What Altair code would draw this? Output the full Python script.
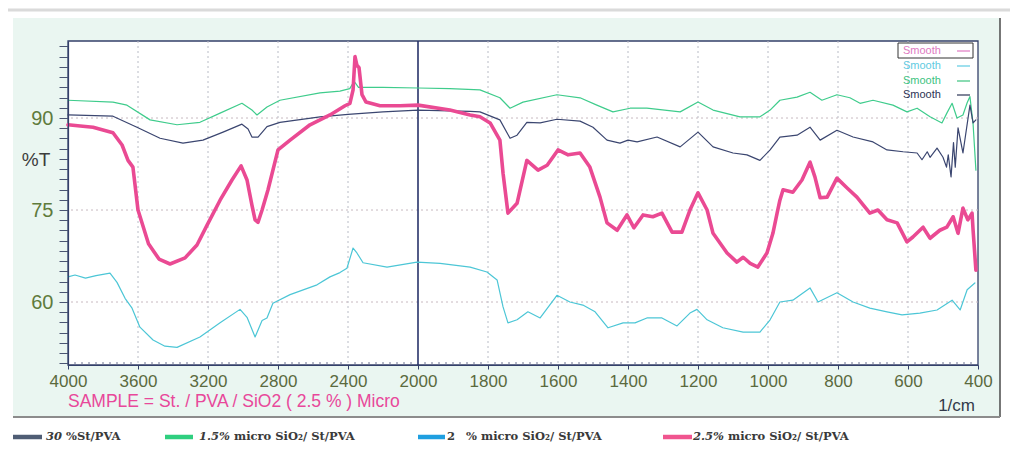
import altair as alt
import pandas as pd

# ---------------- data (wavenumber 1/cm, %T) ----------------
PINK_WN = [4000, 3930, 3857, 3743, 3691, 3657, 3629, 3600, 3540, 3480, 3417, 3331, 3263, 3206, 3131,
           3063, 3011, 2977, 2949, 2931, 2914, 2891, 2857, 2800, 2731, 2617, 2503, 2417, 2389, 2371,
           2360, 2349, 2337, 2320, 2297, 2217, 2103, 2000, 1909, 1851, 1823, 1794, 1766, 1757, 1743,
           1717, 1689, 1657, 1631, 1600, 1571, 1537, 1509, 1480, 1460, 1431, 1403, 1383, 1357, 1329,
           1303, 1274, 1246, 1223, 1200, 1174, 1157, 1117, 1089, 1071, 1051, 1029, 1003, 986, 974,
           966, 957, 929, 903, 880, 866, 851, 831, 803, 774, 746, 709, 686, 660, 631, 603, 586, 557,
           537, 509, 489, 471, 457, 443, 429, 417, 414, 406]
PINK_T = [88.9, 88.7, 88.5, 87.6, 85.6, 83.1, 82.0, 75.0, 69.5, 67.0, 66.2, 67.2, 69.3, 72.5, 76.6,
          79.9, 82.2, 79.9, 75.8, 73.4, 73.0, 75.0, 78.3, 84.8, 86.4, 88.9, 90.5, 92.0, 92.4, 94.6,
          100.0, 98.6, 98.2, 93.8, 92.6, 92.0, 92.0, 92.1, 91.3, 90.5, 90.2, 89.2, 86.4, 81.0, 74.5,
          76.1, 83.1, 81.5, 82.3, 84.8, 84.0, 84.3, 82.0, 77.1, 72.9, 71.7, 74.2, 72.1, 74.2, 73.9,
          74.5, 71.4, 71.4, 75.0, 77.8, 75.0, 71.2, 68.0, 66.5, 67.3, 66.3, 65.7, 68.0, 71.2, 74.5,
          76.6, 78.3, 77.9, 79.9, 82.8, 80.4, 77.0, 77.1, 80.2, 78.6, 77.1, 74.5, 75.0, 73.4, 72.9, 69.8, 70.6, 72.2,
          70.4, 71.7, 72.2, 73.9, 71.2, 75.3, 73.4, 74.5, 71.7, 65.2]

CYAN_WN = [4000, 3960, 3900, 3840, 3760, 3720, 3674, 3634, 3589, 3514, 3446, 3377, 3246, 3131, 3017,
           2977, 2931, 2891, 2863, 2829, 2731, 2577, 2503, 2446, 2406, 2371, 2349, 2314, 2177, 2006,
           1937, 1851, 1803, 1774, 1757, 1743, 1717, 1686, 1651, 1603, 1566, 1529, 1494, 1457, 1414,
           1380, 1346, 1303, 1260, 1223, 1203, 1174, 1129, 1071, 1023, 994, 966, 929, 880, 857, 803,
           757, 709, 660, 617, 566, 517, 474, 451, 431, 409]
CYAN_T = [64.1, 64.4, 63.9, 64.3, 64.7, 63.2, 60.6, 59.0, 55.9, 53.8, 52.8, 52.6, 54.3, 56.6, 58.8,
          57.5, 54.3, 57.0, 57.4, 59.8, 61.2, 62.8, 64.1, 64.8, 65.5, 68.8, 68.0, 66.4, 65.7, 66.5,
          66.3, 65.7, 64.9, 63.6, 59.2, 56.6, 57.1, 58.4, 57.4, 61.1, 60.0, 59.5, 58.4, 55.8, 56.6,
          56.6, 57.4, 57.4, 56.1, 58.2, 58.8, 57.1, 55.8, 55.1, 55.1, 57.1, 60.0, 60.3, 62.3, 60.0, 61.5,
          60.0, 59.0, 58.4, 57.9, 58.2, 58.7, 60.3, 58.7, 62.0, 63.1]

GREEN_WN = [4000, 3743, 3663, 3531, 3377, 3246, 3131, 3006, 2949, 2920, 2863, 2789, 2560, 2446, 2390,
            2365, 2340, 2200, 2000, 1909, 1823, 1766, 1737, 1700, 1603, 1537, 1489, 1443, 1394, 1346,
            1251, 1200, 1157, 1080, 1023, 994, 966, 917, 880, 846, 803, 766, 737, 700, 643, 603, 574,
            537, 503, 489, 474, 460, 443, 431, 423, 414, 406]
GREEN_T = [92.9, 92.6, 92.1, 89.7, 88.9, 89.3, 90.8, 92.4, 91.3, 90.5, 91.8, 92.9, 94.1, 94.4, 94.8,
           96.0, 95.0, 95.0, 94.9, 94.8, 94.6, 93.3, 91.6, 92.6, 93.8, 93.3, 92.1, 91.0, 91.6, 91.6,
           91.0, 92.6, 91.3, 90.2, 90.2, 91.3, 92.9, 93.4, 94.2, 92.9, 93.8, 93.3, 92.4, 92.9, 92.1, 91.0, 91.6,
           90.2, 89.2, 90.8, 92.4, 90.0, 90.5, 92.5, 93.5, 89.0, 81.5]

NAVY_WN = [4000, 3743, 3606, 3474, 3343, 3229, 3114, 3006, 2971, 2949, 2914, 2863, 2789, 2560, 2400,
           2200, 2000, 1851, 1823, 1766, 1737, 1717, 1689, 1651, 1603, 1537, 1500, 1460, 1423, 1400,
           1374, 1317, 1251, 1200, 1157, 1100, 1060, 1023, 994, 966, 917, 880, 851, 803, 757, 700,
           660, 614, 574, 560, 545, 537, 517, 500, 490, 485, 477, 470, 465, 457, 443, 423, 414, 406]
NAVY_T = [90.5, 90.3, 88.5, 86.7, 85.9, 86.4, 87.7, 89.0, 88.2, 86.9, 86.9, 88.6, 89.3, 90.2, 90.6,
          91.0, 91.3, 91.1, 91.0, 89.7, 86.7, 87.2, 89.3, 89.2, 89.8, 89.5, 88.5, 86.4, 85.9, 86.4,
          86.1, 86.9, 85.3, 87.7, 85.3, 84.3, 84.0, 83.1, 84.8, 86.9, 87.2, 88.5, 86.4, 88.0, 86.9, 86.1,
          84.8, 84.5, 84.3, 83.2, 84.5, 83.6, 85.1, 83.6, 82.0, 84.0, 80.4, 86.0, 82.0, 88.4, 84.3, 92.1, 89.2, 89.7]

SERIES = [("cyan", CYAN_WN, CYAN_T), ("green", GREEN_WN, GREEN_T),
          ("navy", NAVY_WN, NAVY_T), ("pink", PINK_WN, PINK_T)]

X_MAJOR = [4000, 3600, 3200, 2800, 2400, 2000, 1800, 1600, 1400, 1200, 1000, 800, 600, 400]
X_GRID = [3600, 3200, 2800, 2400, 1800, 1600, 1400, 1200, 1000, 800, 600]
X_MINOR = [w for w in range(3960, 2000, -40) if w % 400] + [w for w in range(1980, 400, -20) if w % 200]
Y_GRID = [90, 75, 60]
Y_TICKS = [90 + k * 15 / 9 for k in range(-24, 8)]

SMOOTH_LABELS = ["Smooth", "Smooth", "Smooth", "Smooth"]
SAMPLE_TEXT = "SAMPLE = St. / PVA / SiO2 ( 2.5 % ) Micro"

# ---------------- styling ----------------
W, H = 910, 324
COL = {"pink": "#ea4a93", "cyan": "#4cc6d6", "green": "#3fcc8c", "navy": "#3b4670"}
WID = {"pink": 3.6, "cyan": 1.2, "green": 1.2, "navy": 1.2}
FRAME = "#34406a"

XS = alt.Scale(domain=[4000, 2000, 400], range=[0, 350, 910], zero=False, nice=False)
YS = alt.Scale(domain=[49.73, 102.56], zero=False, nice=False)

XAX = alt.Axis(values=X_MAJOR, format="d", title=None, grid=False, zindex=2,
               labelFont="Liberation Sans", labelFontSize=17, labelColor="#5b6a3e",
               labelPadding=4, labelOverlap=False, labelFlush=False,
               tickSize=4, tickColor=FRAME, domainColor=FRAME, domainWidth=1.2)
YAX = alt.Axis(values=Y_TICKS, title=None, grid=False, zindex=2,
               labelExpr="datum.value == 90 || datum.value == 75 || datum.value == 60 ? format(datum.value, 'd') : ''",
               labelFont="Liberation Sans", labelFontSize=20, labelColor="#5f7b3c",
               labelPadding=6, labelOverlap=False, labelFlush=False,
               tickSize=9, tickColor="#4a5572", domainColor=FRAME, domainWidth=1.2)


def xenc(field="wn"):
    return alt.X(f"{field}:Q", scale=XS, axis=XAX)


def yenc(field="t"):
    return alt.Y(f"{field}:Q", scale=YS, axis=YAX)


def one():
    return pd.DataFrame({"k": [0]})


def txt(label, x, y, size, color, font="Liberation Sans", align="left", weight="normal", style="normal"):
    return alt.Chart(pd.DataFrame({"label": [label]})).mark_text(
        align=align, baseline="middle", fontSize=size, color=color, font=font,
        fontWeight=weight, fontStyle=style
    ).encode(x=alt.value(x), y=alt.value(y), text="label:N")


def box(x, x2, y, y2, fill, stroke=None, sw=0):
    kw = dict(fill=fill)
    if stroke:
        kw.update(stroke=stroke, strokeWidth=sw)
    return alt.Chart(one()).mark_rect(**kw).encode(
        x=alt.value(x), x2=alt.value(x2), y=alt.value(y), y2=alt.value(y2))


def hline(x, x2, y, color, sw):
    return alt.Chart(one()).mark_rule(color=color, strokeWidth=sw).encode(
        x=alt.value(x), x2=alt.value(x2), y=alt.value(y))


def vline(x, y, y2, color, sw):
    return alt.Chart(one()).mark_rule(color=color, strokeWidth=sw).encode(
        x=alt.value(x), y=alt.value(y), y2=alt.value(y2))


layers = []
# page decoration
layers.append(hline(-60, 942, -31, "#dadada", 3))
layers.append(box(-55, 932, -23, 376, "#eaf6f1"))
layers.append(vline(932, -23, 376, "#4a4a4a", 1.5))
layers.append(hline(-55, 932, 376, "#8c8c8c", 2))
layers.append(box(0, W, 0, H, "white", FRAME, 1.3))

# grid
layers.append(alt.Chart(pd.DataFrame({"wn": X_GRID})).mark_rule(
    color="#b9bcc6", strokeDash=[2, 3], strokeWidth=1).encode(x=xenc()))
layers.append(alt.Chart(pd.DataFrame({"t": Y_GRID})).mark_rule(
    color="#c8b9c0", strokeDash=[2, 3], strokeWidth=1).encode(y=yenc()))
layers.append(alt.Chart(pd.DataFrame({"wn": [2000]})).mark_rule(
    color="#27336a", strokeWidth=1.6).encode(x=xenc()))
# minor x ticks
layers.append(alt.Chart(pd.DataFrame({"wn": X_MINOR})).mark_rule(
    color="#6f7592", strokeWidth=1).encode(x=xenc(), y=alt.value(H - 3), y2=alt.value(H)))

# spectra
for name, wn, t in SERIES:
    df = pd.DataFrame({"wn": wn, "t": t})
    layers.append(alt.Chart(df).mark_line(
        color=COL[name], strokeWidth=WID[name], strokeJoin="round", strokeCap="round"
    ).encode(x=xenc(), y=yenc(), order="wn:Q"))

# in-plot "Smooth" legend
smooth_cols = ["#e07ac2", "#5fcbe2", "#3cc37f", "#2b3354"]
rows = [10, 25, 40, 54]
layers.append(box(830, 905, 2, 17, "white", "#333333", 1))
for lab, c, ry in zip(SMOOTH_LABELS, smooth_cols, rows):
    layers.append(txt(lab, 835, ry, 11, c))
    layers.append(hline(889, 902, ry, c, 1.2))

# axis annotations
layers.append(txt("%T", -32, 119, 19, "#3c3c3c", align="center"))
layers.append(txt(SAMPLE_TEXT, 0, 361, 17.5, "#e8489a"))
layers.append(txt("1/cm", 907, 365, 17, "#333a4a", align="right"))

# bottom legend
LEG_Y = 396
legend = [
    (-55, -26, "#4f5d74", [("30", -22, "italic"), ("%St/PVA", -2, "normal")]),
    (97, 125, "#2fcf7f", [("1.5%", 131, "italic"), ("micro SiO\u2082/ St/PVA", 166, "normal")]),
    (350, 377, "#1f9fe0", [("2", 379, "normal"), ("%", 398, "normal"), ("micro SiO\u2082/ St/PVA", 413, "normal")]),
    (595, 624, "#f0558f", [("2.5%", 625, "italic"), ("micro SiO\u2082/ St/PVA", 660, "normal")]),
]
for x1, x2, c, parts in legend:
    layers.append(hline(x1, x2, LEG_Y, c, 4.5))
    for lab, px, st in parts:
        layers.append(txt(lab, px, LEG_Y, 11.5, "#3a3a3a", font="DejaVu Serif", weight="bold", style=st))

chart = alt.layer(*layers).properties(
    width=W, height=H,
    autosize=alt.AutoSizeParams(type="none"),
    padding={"left": 68, "top": 41, "right": 32, "bottom": 87},
    background="white",
).configure_view(stroke=None)

chart.save("out.html", embed_options={"renderer": "svg", "actions": False})
